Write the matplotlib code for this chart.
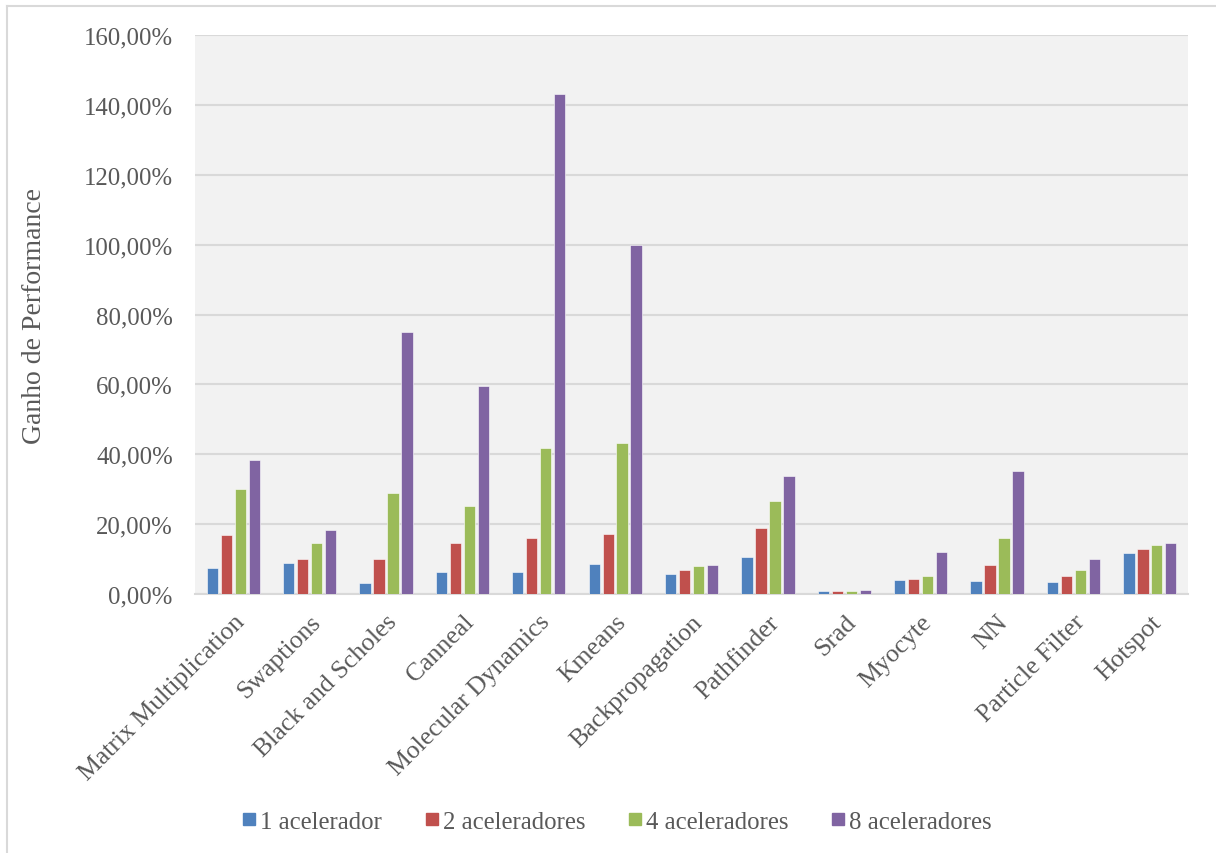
import matplotlib
matplotlib.use("Agg")
import matplotlib.pyplot as plt
import numpy as np
from matplotlib.lines import Line2D
from matplotlib.ticker import FuncFormatter, MultipleLocator

categories = ["Matrix Multiplication", "Swaptions", "Black and Scholes", "Canneal",
              "Molecular Dynamics", "Kmeans", "Backpropagation", "Pathfinder", "Srad",
              "Myocyte", "NN", "Particle Filter", "Hotspot"]
series_names = ["1 acelerador", "2 aceleradores", "4 aceleradores", "8 aceleradores"]
acc1 = [7.3, 8.9, 3.2, 6.2, 6.4, 8.6, 5.6, 10.7, 0.8, 4.0, 3.7, 3.4, 11.6]
acc2 = [17.0, 9.9, 10.1, 14.5, 15.9, 17.2, 6.9, 18.8, 0.8, 4.3, 8.4, 5.1, 12.9]
acc4 = [30.0, 14.5, 28.9, 25.2, 41.7, 43.2, 8.0, 26.5, 0.8, 5.1, 16.0, 7.0, 14.0]
acc8 = [38.3, 18.2, 75.0, 59.4, 143.0, 99.8, 8.4, 33.7, 1.0, 12.0, 35.2, 10.0, 14.5]
colors = ["#4F81BD", "#C0504D", "#9BBB59", "#8064A2"]

plt.rcParams["font.family"] = ["Liberation Serif", "DejaVu Serif"]
text_color = "#595959"

fig = plt.figure(figsize=(12.16, 8.54), dpi=100)
ax = fig.add_axes([0.1604, 0.3033, 0.8166, 0.6545])
ax.set_facecolor("#F2F2F2")

x = np.arange(len(categories))
pitch = 0.183
width = 0.148
for i, (vals, name, c) in enumerate(zip([acc1, acc2, acc4, acc8], series_names, colors)):
    ax.bar(x + (i - 1.5) * pitch, vals, width=width, color=c, label=name,
           edgecolor="white", linewidth=0.4, zorder=3)

ax.set_xlim(-0.5, len(categories) - 0.5)
ax.set_ylim(0, 160)
ax.yaxis.set_major_locator(MultipleLocator(20))
ax.yaxis.set_major_formatter(FuncFormatter(lambda v, p: f"{v:.2f}%".replace(".", ",")))
ax.grid(axis="y", color="#D9D9D9", linewidth=1.5, zorder=0)
for s in ["top", "right", "left"]:
    ax.spines[s].set_visible(False)
ax.spines["bottom"].set_color("#D9D9D9")
ax.spines["bottom"].set_linewidth(1.5)
ax.tick_params(axis="x", length=0, colors=text_color, labelsize=18.5, pad=12)
ax.tick_params(axis="y", length=0, colors=text_color, labelsize=17.8, pad=16)
ax.set_xticks(x)
ax.set_xticklabels(categories, rotation=45, ha="right", rotation_mode="anchor")
ax.set_ylabel("Ganho de Performance", fontsize=20, color=text_color, labelpad=26)

handles = [Line2D([0], [0], marker="s", linestyle="none", markersize=9,
                  markerfacecolor=c, markeredgecolor=c) for c in colors]
fig.legend(handles, series_names, loc="center", bbox_to_anchor=(0.506, 0.037),
           ncol=4, frameon=False, fontsize=17.8, handletextpad=0.05, columnspacing=1.6,
           labelcolor=text_color, handlelength=0.8)

# outer chart frame
fig.add_artist(Line2D([7 / 1216, 1.0], [1 - 7 / 854, 1 - 7 / 854],
                      transform=fig.transFigure, color="#D9D9D9", linewidth=1.5))
fig.add_artist(Line2D([7 / 1216, 7 / 1216], [0.0, 1 - 7 / 854],
                      transform=fig.transFigure, color="#D9D9D9", linewidth=1.5))

fig.savefig("out.png", dpi=100, facecolor="white")
